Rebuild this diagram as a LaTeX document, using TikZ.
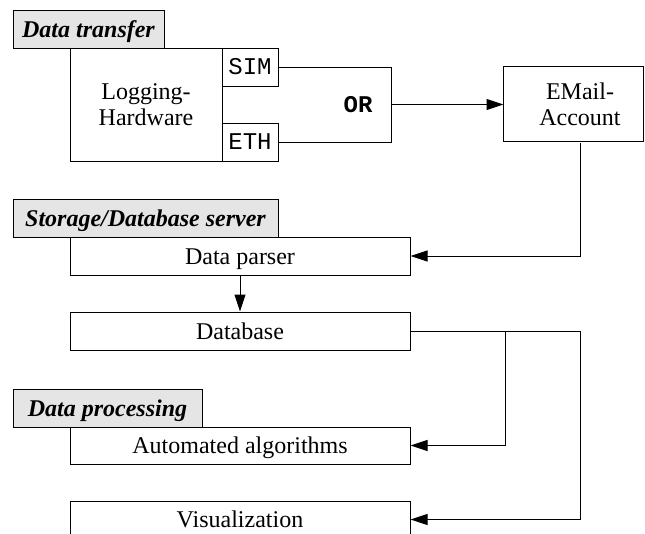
\documentclass[tikz,border=0pt]{standalone}
\usepackage{fontspec}
\setmainfont{Liberation Serif}
\newfontfamily\monof{Liberation Mono}
\usetikzlibrary{arrows.meta}
\tikzset{
  boxx/.style={draw, line width=1pt, inner sep=0pt, align=center, font=\fontsize{24}{25.5}\selectfont},
  onebox/.style={boxx, text height=16pt, text depth=0pt},
  lbl/.style={draw, line width=1pt, inner sep=0pt, fill=black!10, text height=16pt, text depth=0pt, font=\fontsize{24}{26}\selectfont\bfseries\itshape},
  mono/.style={draw, line width=1pt, inner sep=0pt, font=\fontsize{24}{26}\selectfont\monof},
  conn/.style={line width=1pt},
  arr/.style={line width=1pt, -{Triangle[length=17pt,width=11pt]}},
}
\begin{document}
\begin{tikzpicture}[x=1pt,y=-1pt]
\clip (0,0) rectangle (645,533);
% section labels
\node[lbl, minimum width=151pt, minimum height=38pt] (dt) at (88.5,29) {Data transfer};
\node[lbl, minimum width=265pt, minimum height=38pt] (sd) at (145.5,218) {Storage/Database server};
\node[lbl, minimum width=189pt, minimum height=38pt] (dp) at (107.5,408) {Data processing};
% data transfer
\node[boxx, minimum width=152pt, minimum height=113pt] (log) at (146,104.5) {Logging-\\Hardware};
\node[mono, minimum width=56pt, minimum height=38pt] (sim) at (250,67) {SIM};
\node[mono, minimum width=56pt, minimum height=38pt] (eth) at (250,142) {ETH};
\node[font=\fontsize{24}{26}\selectfont\monof\bfseries, inner sep=0pt] (or) at (358,105) {OR};
\coordinate (orT) at (391,67);
\coordinate (orB) at (391,142);
\coordinate (orR) at (391,104.5);
\node[boxx, draw=none, minimum width=152pt, minimum height=75pt] (email) at (580,104.5) {EMail-\\Account};
\draw[conn] (email.north west) rectangle ++(140,75);
% storage
\node[onebox, minimum width=340pt, minimum height=38pt] (parser) at (240,256) {Data parser};
\node[onebox, minimum width=340pt, minimum height=38pt] (db) at (240,331) {Database};
% processing
\node[onebox, minimum width=340pt, minimum height=37pt] (algo) at (240,445.5) {Automated algorithms};
\node[onebox, minimum width=340pt, minimum height=37pt] (vis) at (240,519.5) {Visualization};
\coordinate (dbR) at (580,331);
\coordinate (br) at (505,331);
% connectors
\draw[conn] (sim.east) -- (orT) -- (orB) -- (eth.east);
\draw[arr] (orR) -- (email.west);
\draw[arr] (email.south) |- (parser.east);
\draw[arr] (parser.south) -- (db.north);
\draw[conn] (db.east) -- (dbR);
\draw[arr] (br) |- (algo.east);
\draw[arr] (dbR) |- (vis.east);
\end{tikzpicture}
\end{document}
